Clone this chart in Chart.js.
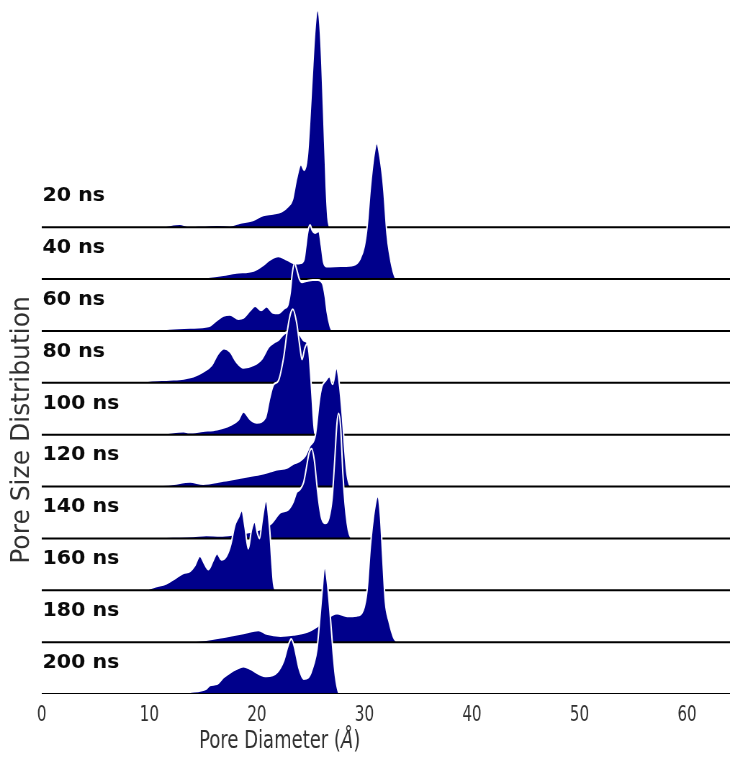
<!DOCTYPE html>
<html>
<head>
<meta charset="utf-8">
<title>Pore Size Distribution</title>
<script src="https://cdn.jsdelivr.net/npm/chart.js@4.4.1/dist/chart.umd.min.js"></script>
<style>
  html, body { margin: 0; padding: 0; background: #fff; overflow: hidden; }
  /* the bitmap is wider than the box: text and curves come out condensed */
  #poreChart { display: block; width: 730px !important; height: 760px !important; }
</style>
</head>
<body>
<canvas id="poreChart" width="1014" height="760" style="width:730px;height:760px"></canvas>
<script>
// RIDGELINE ////////////////////////////////////////////////
// Pore size distribution every 20 ns, one row per snapshot

const times = [20, 40, 60, 80, 100, 120, 140, 160, 180, 200];

// [pore diameter (Å), density]
const d20 = [[9.4,0],[11.3,.002],[12.85,.006],[13.6,.002],[15.0,.003],[16.3,.004],[17.5,.003],[18.4,.008],[19.7,.014],[20.6,.023],[21.5,.026],[22.3,.030],[22.9,.040],[23.3,.052],[23.7,.094],[24.1,.121],[24.4,.110],[24.7,.137],[25.1,.272],[25.4,.380],[25.65,.418],[25.95,.360],[26.2,.225],[26.45,.077],[26.6,.019],[26.75,0]];
const d40 = [[11.3,0],[13,.001],[15,.003],[16.6,.007],[18.1,.012],[19.7,.016],[20.6,.027],[21.2,.037],[22.0,.044],[22.8,.037],[23.6,.030],[24.1,.031],[24.4,.039],[24.55,.062],[24.75,.092],[24.95,.104],[25.15,.094],[25.4,.089],[25.75,.092],[26.0,.064],[26.2,.033],[26.5,.024],[27.8,.025],[29.0,.027],[29.6,.039],[30.0,.064],[30.25,.100],[30.56,.177],[30.87,.235],[31.15,.262],[31.45,.235],[31.8,.173],[32.1,.087],[32.35,.048],[32.6,.021],[32.9,.002],[33.1,0]];
const d60 = [[9.5,0],[10.06,.001],[11.9,.004],[13.8,.006],[15.5,.009],[16.3,.021],[16.9,.029],[17.5,.031],[18.3,.023],[18.75,.025],[19.4,.040],[19.85,.048],[20.4,.040],[20.9,.047],[21.5,.035],[22.0,.034],[22.6,.044],[22.85,.048],[23.1,.073],[23.3,.112],[23.5,.131],[23.7,.119],[23.95,.100],[24.2,.094],[24.6,.096],[25.2,.098],[25.7,.098],[26.1,.092],[26.35,.067],[26.55,.035],[26.8,.010],[27.0,0]];
const d80 = [[8.5,0],[10.06,.004],[11.9,.006],[13.2,.008],[14.1,.012],[15.0,.021],[15.8,.034],[16.4,.056],[16.95,.066],[17.5,.060],[18.1,.040],[18.75,.029],[19.7,.034],[20.5,.047],[21.1,.069],[21.7,.079],[22.0,.082],[22.4,.092],[22.8,.098],[23.2,.100],[23.6,.100],[24.0,.092],[24.4,.081],[24.7,.077],[24.85,.042],[25.0,0]];
const d100 = [[9.0,0],[10.06,.001],[11.5,.003],[13.2,.006],[13.7,.004],[15.0,.007],[16.3,.010],[17.5,.018],[18.3,.029],[18.75,.044],[19.4,.029],[20.0,.023],[20.8,.033],[21.2,.071],[21.55,.096],[22.0,.104],[22.5,.150],[22.8,.196],[23.1,.231],[23.35,.242],[23.7,.216],[24.0,.170],[24.2,.145],[24.45,.166],[24.65,.175],[24.85,.158],[25.0,.116],[25.15,.067],[25.3,.019],[25.4,0]];
const d120 = [[9.0,0],[10.06,.002],[12.0,.004],[13.8,.009],[15.0,.005],[16.9,.011],[18.75,.018],[20.6,.025],[21.9,.033],[22.8,.036],[23.4,.044],[24.0,.049],[24.5,.059],[24.9,.077],[25.45,.100],[25.8,.164],[26.05,.193],[26.4,.204],[26.75,.212],[27.05,.197],[27.4,.228],[27.7,.193],[27.95,.135],[28.15,.077],[28.35,.029],[28.6,.004],[28.8,0]];
const d140 = [[8.5,0],[9.1,.001],[12.2,.003],[14.1,.004],[15.3,.006],[16.6,.005],[18.0,.008],[19.5,.013],[20.5,.019],[21.4,.030],[22.2,.050],[22.95,.056],[23.4,.071],[23.7,.089],[24.0,.094],[24.35,.108],[24.6,.135],[24.85,.164],[25.1,.173],[25.35,.150],[25.6,.100],[25.85,.058],[26.05,.037],[26.35,.029],[26.7,.039],[27.0,.077],[27.25,.154],[27.45,.222],[27.6,.241],[27.8,.212],[28.0,.125],[28.2,.067],[28.4,.029],[28.6,.008],[28.8,0]];
const d160 = [[9.6,0],[10.4,.006],[11.6,.013],[12.55,.025],[13.2,.033],[13.8,.037],[14.25,.048],[14.7,.066],[15.2,.048],[15.5,.040],[15.95,.058],[16.3,.071],[16.7,.059],[17.2,.067],[17.6,.090],[17.95,.125],[18.3,.141],[18.6,.154],[18.9,.121],[19.2,.080],[19.5,.116],[19.8,.132],[20.05,.110],[20.25,.100],[20.5,.135],[20.85,.172],[21.2,.116],[21.4,.051],[21.55,.013],[21.7,0]];
const d180 = [[12.5,0],[13.8,.001],[15.3,.004],[17.2,.011],[18.75,.017],[20.15,.023],[20.9,.016],[22.2,.012],[23.4,.014],[24.7,.020],[25.6,.030],[26.3,.042],[27.0,.052],[27.45,.055],[28.4,.050],[29.3,.051],[29.9,.062],[30.25,.100],[30.56,.185],[30.9,.250],[31.24,.281],[31.5,.241],[31.7,.164],[31.95,.077],[32.3,.039],[32.7,.010],[33.0,0]];
const d200 = [[9.0,0],[10.06,.002],[12.2,.002],[13.8,.004],[15.3,.010],[15.65,.017],[16.3,.019],[16.9,.032],[17.5,.041],[18.1,.048],[18.75,.053],[19.4,.048],[20.15,.039],[20.9,.034],[21.9,.042],[22.5,.064],[22.9,.093],[23.2,.106],[23.5,.090],[23.9,.051],[24.35,.029],[24.8,.032],[25.3,.058],[25.6,.087],[25.8,.131],[26.05,.193],[26.3,.245],[26.55,.216],[26.85,.145],[27.1,.077],[27.3,.035],[27.55,.006],[27.7,0]];

const rows = [d20, d40, d60, d80, d100, d120, d140, d160, d180, d200];

const xTicks = [0, 10, 20, 30, 40, 50, 60];
const xMin = 0;
const xMax = 64;

// vertical gap between two rows, in density units
const step = 0.1;
const fillColor = '#00008b';
const textColor = '#303030';

function rowOffset(i) {
    return (rows.length - 1 - i) * step;
}

// each row: filled curve with white edge, then its black base line.
// top row is drawn first so the lower rows overlap it
let datasets = [];
rows.forEach((row, i) => {
    const off = rowOffset(i);
    datasets.push({
        label: times[i] + ' ns',
        data: row.map(p => ({ x: p[0], y: p[1] + off })),
        fill: { value: off },
        backgroundColor: fillColor,
        borderColor: '#ffffff',
        borderWidth: 2,
        pointRadius: 0,
        cubicInterpolationMode: 'monotone',
        order: 100 - 10 * i
    });
    datasets.push({
        label: 'base ' + times[i],
        data: [{ x: xMin, y: off }, { x: xMax, y: off }],
        fill: false,
        borderColor: '#000000',
        borderWidth: 2,
        pointRadius: 0,
        order: 95 - 10 * i
    });
});

// row names, axis titles
const ridgeText = {
    id: 'ridgeText',
    afterDraw(chart) {
        const ctx = chart.ctx;
        const area = chart.chartArea;
        const yScale = chart.scales.y;

        ctx.save();
        ctx.fillStyle = '#0a0a0a';
        ctx.font = 'bold 19px "DejaVu Sans"';
        ctx.textAlign = 'left';
        ctx.textBaseline = 'middle';
        times.forEach((t, i) => {
            const y = yScale.getPixelForValue(rowOffset(i)) - 31;
            ctx.save();
            ctx.translate(area.left + 1, y);
            ctx.scale(1.5, 1);
            ctx.fillText(t + ' ns', 0, 0);
            ctx.restore();
        });

        // y title
        ctx.fillStyle = textColor;
        ctx.font = '25px "DejaVu Sans"';
        ctx.textAlign = 'center';
        ctx.save();
        ctx.translate(30.6, 430);
        ctx.scale(1 / 0.72, 1);
        ctx.rotate(-Math.PI / 2);
        ctx.fillText('Pore Size Distribution', 0, 0);
        ctx.restore();

        // x title, with the Å in italics
        const parts = [
            ['Pore Diameter (', '25px "DejaVu Sans"'],
            ['Å', 'italic 25px "DejaVu Sans"'],
            [')', '25px "DejaVu Sans"']
        ];
        let total = 0;
        parts.forEach(p => { ctx.font = p[1]; total += ctx.measureText(p[0]).width; });
        let x = 388.5 - total / 2;
        ctx.textAlign = 'left';
        ctx.textBaseline = 'alphabetic';
        parts.forEach(p => {
            ctx.font = p[1];
            ctx.fillText(p[0], x, 748);
            x += ctx.measureText(p[0]).width;
        });
        ctx.restore();
    }
};

const poreChart = new Chart(document.querySelector('#poreChart'), {
    type: 'line',
    data: { datasets: datasets },
    options: {
        responsive: false,
        maintainAspectRatio: false,
        devicePixelRatio: 1,
        animation: false,
        layout: { padding: { left: 58, right: 0, top: 0, bottom: 0 } },
        plugins: {
            legend: { display: false },
            tooltip: { enabled: false }
        },
        scales: {
            x: {
                type: 'linear',
                min: xMin,
                max: xMax,
                afterBuildTicks: (scale) => { scale.ticks = xTicks.map(v => ({ value: v })); },
                ticks: {
                    color: textColor,
                    font: { family: 'DejaVu Sans', size: 21 },
                    padding: 9,
                    maxRotation: 0
                },
                grid: { display: false, drawTicks: false },
                border: { display: false },
                afterFit: (scale) => { scale.height = 66; }
            },
            y: {
                display: false,
                min: 0,
                max: 1.338
            }
        }
    },
    plugins: [ridgeText]
});
</script>
</body>
</html>
